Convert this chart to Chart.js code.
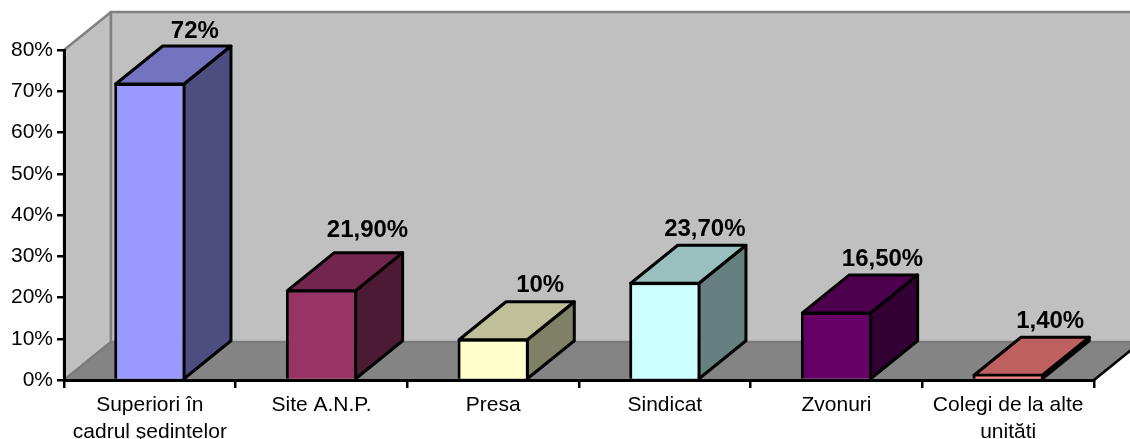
<!DOCTYPE html>
<html>
<head>
<meta charset="utf-8">
<title>Chart</title>
<script src="https://cdn.jsdelivr.net/npm/chart.js@4"></script>
<style>
  html, body { margin: 0; padding: 0; background: #fff; }
  #wrap { width: 1130px; height: 439px; overflow: hidden; }
</style>
</head>
<body>
<div id="wrap"><canvas id="chart" width="1130" height="439"></canvas></div>
<script>
const categories = [
  ['Superiori în', 'cadrul şedintelor'],
  'Site A.N.P.',
  'Presa',
  'Sindicat',
  'Zvonuri',
  ['Colegi de la alte', 'unităti']
];
const values = [72, 21.9, 10, 23.7, 16.5, 1.4];
const valueLabels = ['72%', '21,90%', '10%', '23,70%', '16,50%', '1,40%'];
const barColors = ['#9999ff', '#993366', '#ffffcc', '#ccffff', '#660066', '#ff8080'];

const FONT = '"Liberation Sans", Arial, sans-serif';
// how far the 3D box goes back
const DEPTH_X = 47;
const DEPTH_Y = -38;
// the labels were moved by hand in the original, small corrections per label
const labelShiftX = [0, 1, 2, -5, 1, -3];
const labelShiftY = [1, -6, 0, 0, 0, 0];

// darker version of a colour for the top and side faces
function shade(hex, f) {
  const n = parseInt(hex.slice(1), 16);
  const r = Math.round((n >> 16 & 255) * f);
  const g = Math.round((n >> 8 & 255) * f);
  const b = Math.round((n & 255) * f);
  return `rgb(${r},${g},${b})`;
}

function poly(ctx, pts, fill, stroke, width) {
  ctx.beginPath();
  pts.forEach((p, i) => i ? ctx.lineTo(p[0], p[1]) : ctx.moveTo(p[0], p[1]));
  ctx.closePath();
  ctx.fillStyle = fill;
  ctx.fill();
  ctx.lineWidth = width;
  ctx.strokeStyle = stroke;
  ctx.lineJoin = 'round';
  ctx.stroke();
}

const walls = {
  id: 'walls',
  beforeDraw(chart) {
    const { ctx, chartArea: a } = chart;
    const dx = DEPTH_X, dy = DEPTH_Y;
    ctx.save();
    poly(ctx, [[a.left, a.bottom], [a.left, a.top], [a.left + dx, a.top + dy], [a.left + dx, a.bottom + dy]], '#c0c0c0', '#808080', 2.5);
    poly(ctx, [[a.left + dx, a.top + dy], [a.right + dx, a.top + dy], [a.right + dx, a.bottom + dy], [a.left + dx, a.bottom + dy]], '#c0c0c0', '#808080', 2.5);
    poly(ctx, [[a.left, a.bottom], [a.left + dx, a.bottom + dy], [a.right + dx, a.bottom + dy], [a.right, a.bottom]], '#848484', '#7a7a7a', 2);
    // front right edge of the floor
    ctx.beginPath();
    ctx.moveTo(a.right, a.bottom);
    ctx.lineTo(a.right + dx, a.bottom + dy);
    ctx.lineWidth = 2.5;
    ctx.strokeStyle = '#000';
    ctx.stroke();
    ctx.restore();
  }
};

const boxes = {
  id: 'boxes',
  beforeDatasetsDraw(chart) {
    const { ctx } = chart;
    const dx = DEPTH_X, dy = DEPTH_Y;
    ctx.save();
    chart.getDatasetMeta(0).data.forEach((bar, i) => {
      const l = bar.x - bar.width / 2 + 1.5, r = bar.x + bar.width / 2 - 1.5;
      const t = bar.y + 1, b = bar.base;
      poly(ctx, [[r, t], [r + dx, t + dy], [r + dx, b + dy], [r, b]], shade(barColors[i], 0.5), '#000', 3);
      poly(ctx, [[l, t], [l + dx, t + dy], [r + dx, t + dy], [r, t]], shade(barColors[i], 0.75), '#000', 3);
    });
    ctx.restore();
  },
  afterDatasetsDraw(chart) {
    const { ctx } = chart;
    ctx.save();
    ctx.font = 'bold 24px ' + FONT;
    ctx.fillStyle = '#000';
    ctx.textAlign = 'center';
    ctx.textBaseline = 'middle';
    chart.getDatasetMeta(0).data.forEach((bar, i) => {
      ctx.fillText(valueLabels[i], bar.x + DEPTH_X - 2 + labelShiftX[i], bar.y + DEPTH_Y - 15 + labelShiftY[i]);
    });
    ctx.restore();
  }
};

new Chart(document.getElementById('chart'), {
  type: 'bar',
  data: {
    labels: categories,
    datasets: [{
      data: values,
      backgroundColor: barColors,
      borderColor: '#000',
      borderWidth: 3,
      borderSkipped: 'bottom',
      barPercentage: 0.415,
      categoryPercentage: 1
    }]
  },
  options: {
    responsive: false,
    animation: false,
    layout: { padding: { top: 50, right: 36, left: 0, bottom: 0 } },
    plugins: { legend: { display: false }, tooltip: { enabled: false } },
    scales: {
      x: {
        afterFit(s) { s.height = 59; },
        grid: { drawOnChartArea: false, color: '#000', lineWidth: 2.5, tickLength: 8 },
        border: { color: '#000', width: 3, z: 1 },
        ticks: {
          color: '#000',
          padding: 4,
          maxRotation: 0,
          autoSkip: false,
          font: { family: FONT, size: 21, lineHeight: 1.29 }
        }
      },
      y: {
        min: 0,
        max: 80,
        afterFit(s) { s.width = 64; },
        grid: { drawOnChartArea: false, color: '#000', lineWidth: 2.5, tickLength: 7 },
        border: { color: '#000', width: 3 },
        ticks: {
          color: '#000',
          stepSize: 10,
          padding: 4,
          font: { family: FONT, size: 21 },
          callback: v => v + '%'
        }
      }
    }
  },
  plugins: [walls, boxes]
});
</script>
</body>
</html>
